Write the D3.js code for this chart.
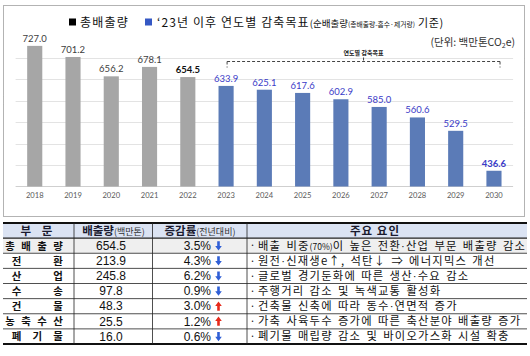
<!DOCTYPE html>
<html><head><meta charset="utf-8">
<script src="https://cdn.jsdelivr.net/npm/d3@7"></script>
<style>body{margin:0;background:#fff}svg{display:block}</style>
</head><body>
<svg id="c" width="530" height="356"></svg>
<script>
// ---------- chart data ----------
const years = ['2018','2019','2020','2021','2022','2023','2024','2025','2026','2027','2028','2029','2030'];
const emissions = [727.0, 701.2, 656.2, 678.1, 654.5, 633.9, 625.1, 617.6, 602.9, 585.0, 560.6, 529.5, 436.6];
const targetStartYear = '2023';
const boldYears = ['2022', '2030'];
const gridValues = [450, 500, 550, 600, 650, 700];
const legendTotal = '총배출량';
const legendTarget = '‘23년 이후 연도별 감축목표';
const legendTargetNote1 = '(순배출량';
const legendTargetNote2 = '(총배출량-흡수·제거량)';
const legendTargetNote3 = ' 기준)';
const unitLabel = ['(단위: 백만톤CO', '2', 'e)'];
const bracketLabel = '연도별 감축목표';

// ---------- table data ----------
const headers = ['부 문', '배출량', '(백만톤)', '증감률', '(전년대비)', '주요 요인'];
const sectors = ['총배출량', '전환', '산업', '수송', '건물', '농축수산', '폐기물'];
const sectorEmissions = [654.5, 213.9, 245.8, 97.8, 48.3, 25.5, 16.0];
const changeRates = [3.5, 4.3, 6.2, 0.9, 3.0, 1.2, 0.6];
const changeDirs = ['down', 'down', 'down', 'down', 'up', 'up', 'down'];
const factors = [
  ['배출 비중', '(70%)', '이 높은 전환·산업 부문 배출량 감소'],
  ['원전·신재생e↑, 석탄↓ ⇒ 에너지믹스 개선'],
  ['글로벌 경기둔화에 따른 생산·수요 감소'],
  ['주행거리 감소 및 녹색교통 활성화'],
  ['건축물 신축에 따라 동수·연면적 증가'],
  ['가축 사육두수 증가에 따른 축산분야 배출량 증가'],
  ['폐기물 매립량 감소 및 바이오가스화 시설 확충']
];

const KR = '"Noto Sans CJK KR", "Noto Sans", sans-serif';
const NUM = 'Lato, "Noto Sans", sans-serif';
const TNUM = '"Liberation Sans", Arial, sans-serif';
const svg = d3.select('#c');
svg.append('rect').attr('width', 530).attr('height', 356).attr('fill', '#fff');

// ---------- chart frame ----------
svg.append('rect').attr('x', 3.5).attr('y', 5.5).attr('width', 521).attr('height', 211)
  .attr('fill', 'none').attr('stroke', '#666').attr('stroke-width', 1).attr('stroke-dasharray', '1,1');

const x = d3.scaleBand().domain(years).range([15.6, 513.1]).paddingInner(0.605).paddingOuter(0.3025);
const y = d3.scaleLinear().domain([400, 750]).range([186.5, 36]);

// gridlines
svg.append('g').selectAll('line').data(gridValues).join('line')
  .attr('x1', 15.6).attr('x2', 513.1)
  .attr('y1', d => Math.round(y(d)) + 0.5).attr('y2', d => Math.round(y(d)) + 0.5)
  .attr('stroke', '#e3e3e3').attr('stroke-width', 1);
svg.append('line').attr('x1', 15.6).attr('x2', 513.1)
  .attr('y1', y(400)).attr('y2', y(400)).attr('stroke', '#cfcfcf');

const data = years.map((yr, i) => ({ yr, v: emissions[i], target: yr >= targetStartYear }));

// bars
svg.append('g').selectAll('rect').data(data).join('rect')
  .attr('x', d => x(d.yr)).attr('width', x.bandwidth())
  .attr('y', d => y(d.v)).attr('height', d => y(400) - y(d.v))
  .attr('fill', d => d.target ? '#5b7bb7' : '#a6a6a6');

// value labels
svg.append('g').selectAll('text').data(data).join('text')
  .attr('x', d => x(d.yr) + x.bandwidth() / 2).attr('y', d => y(d.v) - 4)
  .attr('text-anchor', 'middle')
  .attr('font-family', NUM).attr('font-size', 9.5)
  .attr('font-weight', d => boldYears.includes(d.yr) ? 700 : 400)
  .attr('fill', d => d.target ? '#3b3bc8' : (boldYears.includes(d.yr) ? '#111' : '#404040'))
  .text(d => d.v.toFixed(1));

// year axis labels
const xAxis = d3.axisBottom(x).tickSize(0).tickPadding(6);
const ax = svg.append('g').attr('transform', `translate(0,${y(400)})`).call(xAxis);
ax.select('.domain').remove();
ax.selectAll('text').attr('font-family', NUM).attr('font-size', 7.6).attr('fill', '#595959');

// bracket for target years
const bx1 = x(targetStartYear) + x.bandwidth() / 2 + 1;
const bx2 = x(years[years.length - 1]) + x.bandwidth() - 1.5;
const by = 61.5;
const bracket = svg.append('g').attr('stroke', '#444').attr('stroke-width', 1).attr('stroke-dasharray', '3,2');
bracket.append('line').attr('x1', bx1).attr('x2', bx2).attr('y1', by).attr('y2', by);
bracket.append('line').attr('x1', bx1).attr('x2', bx1).attr('y1', by).attr('y2', by + 6);
bracket.append('line').attr('x1', bx2).attr('x2', bx2).attr('y1', by).attr('y2', by + 6);
bracket.append('line').attr('x1', (bx1 + bx2) / 2).attr('x2', (bx1 + bx2) / 2).attr('y1', by - 4).attr('y2', by);
svg.append('text').attr('x', (bx1 + bx2) / 2).attr('y', 54.5).attr('text-anchor', 'middle')
  .attr('font-family', KR).attr('font-size', 6).attr('font-weight', 700).attr('fill', '#222')
  .text(bracketLabel);

// legend
svg.append('rect').attr('x', 69).attr('y', 18.5).attr('width', 7).attr('height', 7).attr('fill', '#000');
svg.append('text').attr('x', 80).attr('y', 26.5).attr('font-family', KR).attr('font-size', 12)
  .attr('letter-spacing', 1.2).attr('fill', '#111').text(legendTotal);
svg.append('rect').attr('x', 145).attr('y', 18.5).attr('width', 7).attr('height', 7).attr('fill', '#3558c4');
const lt = svg.append('text').attr('x', 157).attr('y', 26.5).attr('font-family', KR).attr('fill', '#111');
lt.append('tspan').attr('font-size', 12).attr('letter-spacing', 1.1).text(legendTarget);
lt.append('tspan').attr('font-size', 9.5).text(legendTargetNote1);
lt.append('tspan').attr('font-size', 6.8).text(legendTargetNote2);
lt.append('tspan').attr('font-size', 11).attr('letter-spacing', 0.6).text(legendTargetNote3);

// unit
const ut = svg.append('text').attr('x', 515).attr('y', 46).attr('text-anchor', 'end')
  .attr('font-family', KR).attr('font-size', 10.5).attr('fill', '#333');
ut.append('tspan').text(unitLabel[0]);
ut.append('tspan').attr('font-size', 7).attr('dy', 2).text(unitLabel[1]);
ut.append('tspan').attr('dy', -2).text(unitLabel[2]);

// ---------- table ----------
const colEdges = [3, 74, 152.5, 247, 527];
const rowKeys = ['header', ...sectors];
const ry = d3.scaleBand().domain(rowKeys).range([223, 344]);
const rh = ry.bandwidth();
const t = svg.append('g');

// backgrounds
t.append('rect').attr('x', colEdges[0]).attr('y', ry('header')).attr('width', colEdges[4] - colEdges[0])
  .attr('height', rh).attr('fill', '#dbe3f3');
t.append('rect').attr('x', colEdges[0]).attr('y', ry(sectors[0])).attr('width', colEdges[4] - colEdges[0])
  .attr('height', rh).attr('fill', '#efefef');

// horizontal lines
rowKeys.slice(1).forEach((k, i) => {
  t.append('line').attr('x1', colEdges[0]).attr('x2', colEdges[4])
    .attr('y1', ry(k)).attr('y2', ry(k))
    .attr('stroke', '#222').attr('stroke-width', i === 0 ? 1.4 : 0.8);
});
t.append('line').attr('x1', colEdges[0]).attr('x2', colEdges[4]).attr('y1', 223).attr('y2', 223)
  .attr('stroke', '#111').attr('stroke-width', 1.8);
t.append('line').attr('x1', colEdges[0]).attr('x2', colEdges[4]).attr('y1', 344).attr('y2', 344)
  .attr('stroke', '#111').attr('stroke-width', 1.8);
// vertical lines
colEdges.slice(1, 4).forEach(cx => {
  t.append('line').attr('x1', cx).attr('x2', cx).attr('y1', 223).attr('y2', 344)
    .attr('stroke', '#222').attr('stroke-width', 0.8);
});

const mid = k => ry(k) + rh / 2 + 4.2;

// header
t.append('text').attr('x', 38.5).attr('y', mid('header')).attr('text-anchor', 'middle')
  .attr('font-family', KR).attr('font-size', 11.5).attr('font-weight', 700).attr('fill', '#1a1a2e')
  .attr('letter-spacing', 4).text(headers[0]);
const h2 = t.append('text').attr('x', 113.5).attr('y', mid('header')).attr('text-anchor', 'middle')
  .attr('font-family', KR).attr('fill', '#1a1a2e');
h2.append('tspan').attr('font-size', 11.5).attr('font-weight', 700).text(headers[1]);
h2.append('tspan').attr('font-size', 9).attr('fill', '#333').text(headers[2]);
const h3 = t.append('text').attr('x', 200).attr('y', mid('header')).attr('text-anchor', 'middle')
  .attr('font-family', KR).attr('fill', '#1a1a2e');
h3.append('tspan').attr('font-size', 11.5).attr('font-weight', 700).text(headers[3]);
h3.append('tspan').attr('font-size', 9).attr('fill', '#333').text(headers[4]);
t.append('text').attr('x', 375).attr('y', mid('header')).attr('text-anchor', 'middle')
  .attr('font-family', KR).attr('font-size', 11.5).attr('font-weight', 700).attr('fill', '#1a1a2e')
  .attr('letter-spacing', 1).text(headers[5]);

// sector labels (distributed)
sectors.forEach(s => {
  const chars = Array.from(s);
  const x0 = chars.length >= 4 ? 10 : 16.5, x1 = 58;
  const pos = d3.scalePoint().domain(d3.range(chars.length)).range([x0, x1]);
  chars.forEach((c, j) => {
    t.append('text').attr('x', pos(j)).attr('y', mid(s) - 0.3).attr('text-anchor', 'middle')
      .attr('font-family', KR).attr('font-size', 10.4).attr('font-weight', 700).attr('fill', '#111')
      .text(c);
  });
});

// emissions values
t.selectAll('text.val').data(sectors).join('text').attr('class', 'val')
  .attr('x', 111).attr('y', d => mid(d)).attr('text-anchor', 'middle')
  .attr('font-family', TNUM).attr('font-size', 12).attr('fill', '#111')
  .text((d, i) => sectorEmissions[i].toFixed(1));

// change rates + arrows
sectors.forEach((s, i) => {
  t.append('text').attr('x', 211).attr('y', mid(s)).attr('text-anchor', 'end')
    .attr('font-family', TNUM).attr('font-size', 12).attr('fill', '#111')
    .text(changeRates[i].toFixed(1) + '%');
  const cy = ry(s) + rh / 2, cx = 218.5;
  const down = changeDirs[i] === 'down';
  const p = d3.path();
  const s1 = down ? 1 : -1;
  p.moveTo(cx - 1.3, cy - 4.5 * s1);
  p.lineTo(cx + 1.3, cy - 4.5 * s1);
  p.lineTo(cx + 1.3, cy + 0.3 * s1);
  p.lineTo(cx + 3.3, cy + 0.3 * s1);
  p.lineTo(cx, cy + 4.8 * s1);
  p.lineTo(cx - 3.3, cy + 0.3 * s1);
  p.lineTo(cx - 1.3, cy + 0.3 * s1);
  p.closePath();
  t.append('path').attr('d', p.toString()).attr('fill', down ? '#2f5fd6' : '#e62a1c');
});

// factors
sectors.forEach((s, i) => {
  t.append('text').attr('x', 252.5).attr('y', mid(s) - 0.5).attr('text-anchor', 'middle')
    .attr('font-family', KR).attr('font-size', 10).attr('fill', '#111').text('·');
  const ft = t.append('text').attr('x', 258).attr('y', mid(s) - 0.3)
    .attr('font-family', KR).attr('fill', '#111').attr('word-spacing', 1.5);
  factors[i].forEach(part => {
    const small = /^\(\d+%\)$/.test(part);
    if (small) {
      ft.append('tspan').attr('font-size', 8.5).attr('letter-spacing', 0).text(part);
      return;
    }
    part.split('·').forEach((seg, k) => {
      if (k > 0) ft.append('tspan').attr('font-family', TNUM).attr('font-size', 11.3)
        .attr('letter-spacing', 1.2).text('·');
      ft.append('tspan').attr('font-size', 11.3).attr('letter-spacing', 1.2).text(seg);
    });
  });
});
</script>
</body></html>
